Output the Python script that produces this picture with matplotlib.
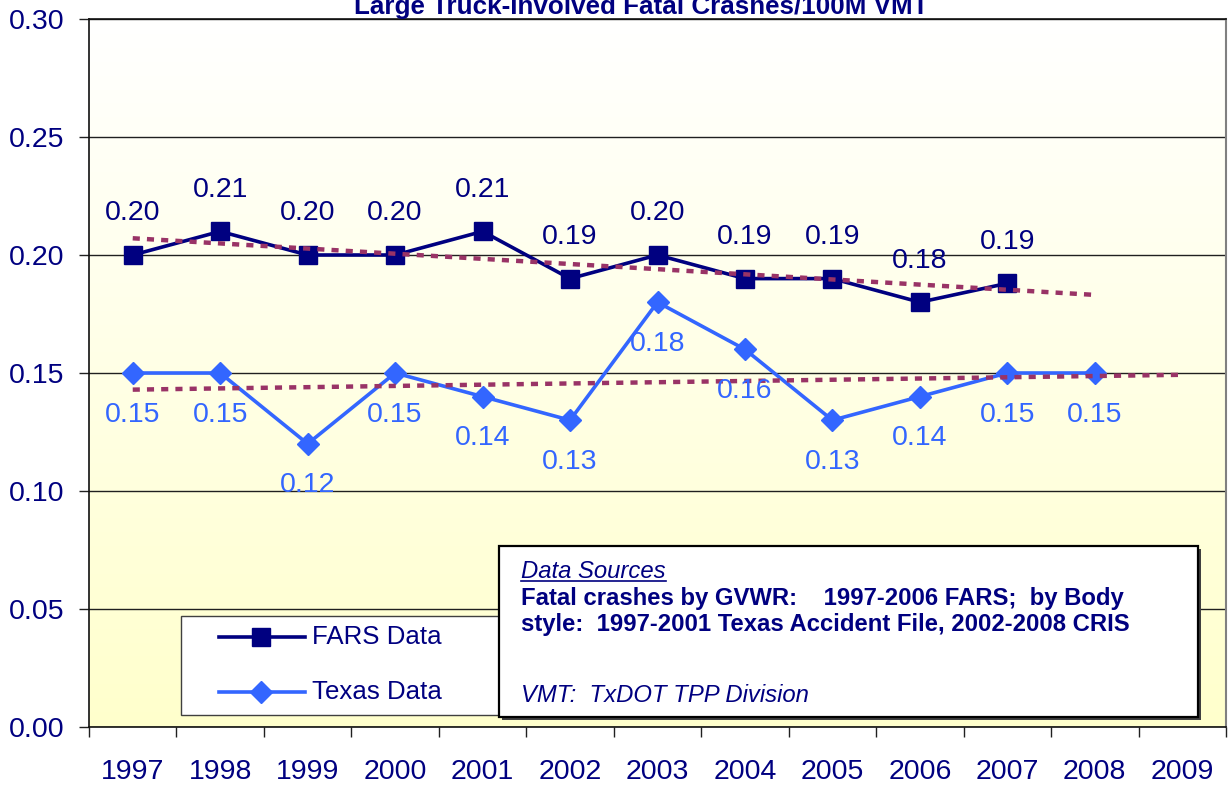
import numpy as np
import matplotlib
matplotlib.use("Agg")
import matplotlib.pyplot as plt
from matplotlib.patches import Rectangle
from matplotlib.lines import Line2D

plt.rcParams['font.family'] = ['Liberation Sans', 'DejaVu Sans']

years = ['1997', '1998', '1999', '2000', '2001', '2002', '2003',
         '2004', '2005', '2006', '2007', '2008', '2009']
fars = [0.20, 0.21, 0.20, 0.20, 0.21, 0.19, 0.20, 0.19, 0.19, 0.18, 0.188]
texas = [0.15, 0.15, 0.12, 0.15, 0.14, 0.13, 0.18, 0.16, 0.13, 0.14, 0.15, 0.15]
yticks = [0.00, 0.05, 0.10, 0.15, 0.20, 0.25, 0.30]
series_names = ['FARS Data', 'Texas Data']
title = 'Large Truck-Involved Fatal Crashes/100M VMT'

NAVY = '#000080'
BLUE = '#3366FF'
TREND = '#993366'

W, H = 1230, 786
fig = plt.figure(figsize=(W / 100, H / 100), dpi=100)
fig.patch.set_facecolor('white')

def fx(px):
    return px / W

def fy(py):
    return 1 - py / H

L, R, T, B = 89, 1226, 19, 727
ax = fig.add_axes([fx(L), fy(B), fx(R) - fx(L), fy(T) - fy(B)])
ax.set_xlim(-0.5, len(years) - 0.5)
ax.set_ylim(0, 0.30)

# background gradient
grad = np.linspace(0, 1, 256).reshape(-1, 1)
top = np.array([1.0, 1.0, 1.0])
bot = np.array([1.0, 1.0, 0.80])
img = top[None, None, :] * (1 - grad[:, :, None]) + bot[None, None, :] * grad[:, :, None]
ax.imshow(img, extent=[0, 1, 0, 1], transform=ax.transAxes, aspect='auto', zorder=0)

# gridlines
for yv in yticks:
    ax.axhline(yv, color='#202020', lw=1.0, zorder=1)

xf = np.arange(len(fars))
xt = np.arange(len(texas))
fars_style = dict(color=NAVY, lw=2.6, marker='s', ms=13, mfc=NAVY, mec=NAVY)
tex_style = dict(color=BLUE, lw=2.6, marker='D', ms=11, mfc=BLUE, mec=BLUE)
ax.plot(xf, fars, zorder=4, **fars_style)
ax.plot(xt, texas, zorder=4, **tex_style)

# linear trend lines (extended one period forward)
for xs, ys in ((xf, fars), (xt, texas)):
    c = np.polyfit(xs, ys, 1)
    xe = np.arange(len(ys) + 1)
    ax.plot(xe, np.polyval(c, xe), color=TREND, lw=3.2,
            linestyle=(0, (1.6, 1.6)), zorder=5)

for x, v in zip(xf, fars):
    ax.annotate(f'{v:.2f}', (x, v), xytext=(0, 30), textcoords='offset points',
                ha='center', va='center', fontsize=20.5, color=NAVY, zorder=6)
for x, v in zip(xt, texas):
    ax.annotate(f'{v:.2f}', (x, v), xytext=(0, -30), textcoords='offset points',
                ha='center', va='center', fontsize=20.5, color=BLUE, zorder=6)

# axes styling
ax.set_yticks(yticks)
ax.set_yticklabels([f'{v:.2f}' for v in yticks])
ax.set_xticks(np.arange(len(years)))
ax.set_xticklabels(years)
ax.set_xticks(np.arange(len(years) + 1) - 0.5, minor=True)
ax.tick_params(axis='x', which='major', length=0, pad=23, labelsize=20.5,
               labelcolor=NAVY)
ax.tick_params(axis='x', which='minor', length=7, width=1, color='#202020',
               direction='out')
ax.tick_params(axis='y', length=7, width=1, color='#202020', direction='out',
               pad=10.5, labelsize=20.5, labelcolor=NAVY)
for s in ('left', 'top', 'bottom'):
    ax.spines[s].set_color('#101010')
    ax.spines[s].set_linewidth(1.2)
ax.spines['right'].set_color('#808080')
ax.spines['right'].set_linewidth(1.5)

# title (cut off at top, as in the reference)
fig.text(fx(641), fy(14), title, ha='center', va='baseline', fontsize=18.7,
         fontweight='bold', color=NAVY)

# legend (drawn in figure pixels, partly hidden by the data-source box)
lg = Rectangle((fx(181), fy(715)), fx(600) - fx(181), fy(616) - fy(715),
               transform=fig.transFigure, facecolor='white', edgecolor='#404040',
               lw=1.0, zorder=7)
fig.add_artist(lg)
for name, style, ypx in ((series_names[0], fars_style, 637),
                         (series_names[1], tex_style, 692)):
    fig.add_artist(Line2D([fx(219), fx(305)], [fy(ypx), fy(ypx)],
                          transform=fig.transFigure, zorder=8,
                          markevery=[], **style))
    fig.add_artist(Line2D([fx(261)], [fy(ypx)], transform=fig.transFigure,
                          zorder=8, **style))
    fig.text(fx(312), fy(ypx), name, ha='left', va='center', fontsize=18.6,
             color=NAVY, zorder=8)

# data sources box
bx0, by0, bx1, by1 = 499, 546, 1198, 717
shadow = Rectangle((fx(bx0 + 3), fy(by1 + 3)), fx(bx1) - fx(bx0), fy(by0) - fy(by1),
                   transform=fig.transFigure, facecolor='#404040', edgecolor='none',
                   zorder=9)
box = Rectangle((fx(bx0), fy(by1)), fx(bx1) - fx(bx0), fy(by0) - fy(by1),
                transform=fig.transFigure, facecolor='white', edgecolor='black',
                lw=1.6, zorder=10)
fig.add_artist(shadow)
fig.add_artist(box)

tx = 521
fs = 17.2
t1 = fig.text(fx(tx), fy(571), 'Data Sources', ha='left', va='center', fontsize=fs,
              style='italic', color=NAVY, zorder=11)
fig.text(fx(tx), fy(598), 'Fatal crashes by GVWR:    1997-2006 FARS;  by Body',
         ha='left', va='center', fontsize=fs, fontweight='bold', color=NAVY, zorder=11)
fig.text(fx(tx), fy(624), 'style:  1997-2001 Texas Accident File, 2002-2008 CRIS',
         ha='left', va='center', fontsize=fs, fontweight='bold', color=NAVY, zorder=11)
fig.text(fx(tx), fy(696), 'VMT:  TxDOT TPP Division', ha='left', va='center',
         fontsize=fs, style='italic', color=NAVY, zorder=11)

renderer = fig.canvas.get_renderer()
bb = t1.get_window_extent(renderer)
uy = bb.y0 + 2
fig.add_artist(Line2D([bb.x0 / W, bb.x1 / W], [uy / H, uy / H],
                      transform=fig.transFigure, color=NAVY, lw=1.2, zorder=11))

fig.savefig('out.png', dpi=100)
